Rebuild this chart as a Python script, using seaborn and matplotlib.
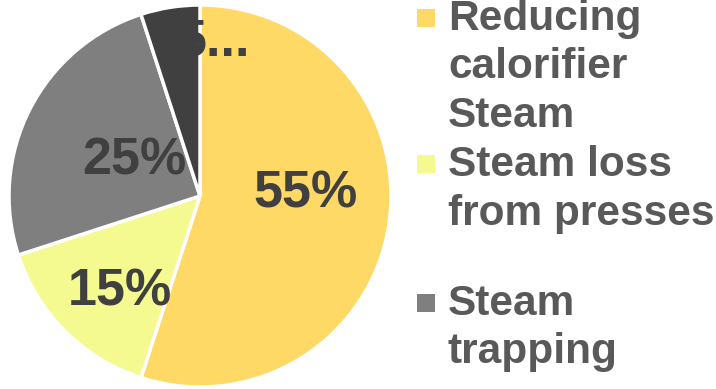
import matplotlib
matplotlib.use("Agg")
import matplotlib.pyplot as plt
from matplotlib.patches import Rectangle
import seaborn as sns

# Data
categories = ["Reducing\ncalorifier\nSteam", "Steam loss\nfrom presses", "Steam\ntrapping", "Other\nlosses"]
shares = [55, 15, 25, 5]
label_texts = ["55%", "15%", "25%", "5..."]
colors = ["#FFD966", "#F4FA8F", "#7F7F7F", "#404040"]

sns.set_theme(style="white")
plt.rcParams["font.family"] = ["Liberation Sans", "DejaVu Sans"]

W, H = 716, 389
fig = plt.figure(figsize=(W / 100, H / 100), dpi=100)
fig.patch.set_facecolor("white")

# Pie axes placed by pixel box (centre and radius in pixels)
cx, cy, r = 200, 196, 191
ax = fig.add_axes([(cx - r) / W, (H - cy - r) / H, 2 * r / W, 2 * r / H])
wedges, _ = ax.pie(
    shares, colors=colors, startangle=90, counterclock=False,
    wedgeprops=dict(edgecolor="white", linewidth=2.5),
)
ax.set_xlim(-1, 1)
ax.set_ylim(-1, 1)
ax.set_aspect("equal")
ax.axis("off")

# Data labels (x, baseline y, horizontal alignment) in pie coordinates
label_xy = [(0.55, -0.058, "center"), (-0.419, -0.571, "center"),
            (-0.346, 0.110, "center"), (-0.120, 0.738, "left")]
for txt, (x, y, ha) in zip(label_texts, label_xy):
    ax.text(x, y, txt, ha=ha, va="baseline", fontsize=37.5, fontweight="bold",
            color="#404040")

# Legend drawn entry by entry on the right (entries that fit the canvas)
legend_first_baseline = [30, 176, 315]
line_step = 48.5
for name, col, base in zip(categories, colors, legend_first_baseline):
    fig.add_artist(Rectangle((417 / W, 1 - (base - 3) / H), 18 / W, 18 / H,
                             transform=fig.transFigure, facecolor=col,
                             edgecolor="none"))
    for i, line in enumerate(name.split("\n")):
        fig.text(448 / W, 1 - (base + i * line_step) / H, line,
                 ha="left", va="baseline", fontsize=30.5, fontweight="bold",
                 color="#595959")

fig.savefig("out.png", dpi=100, facecolor="white")
